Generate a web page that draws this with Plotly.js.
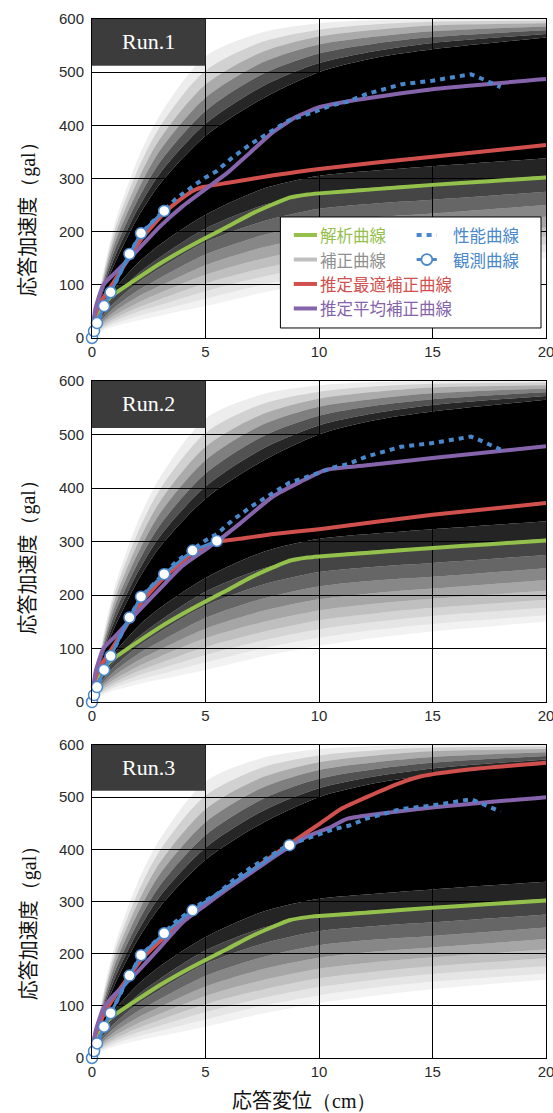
<!DOCTYPE html>
<html><head><meta charset="utf-8">
<script src="https://cdn.plot.ly/plotly-3.0.1.min.js"></script>
<style>html,body{margin:0;padding:0;background:#fff}#chart{width:553px;height:1113px}</style>
</head><body><div id="chart"></div>
<script>
// ---------------- data ----------------
const xTicks = [0, 5, 10, 15, 20];
const yTicks = [0, 100, 200, 300, 400, 500, 600];
const runLabels = ['Run.1', 'Run.2', 'Run.3'];
const legendNames = ['解析曲線', '補正曲線', '推定最適補正曲線', '推定平均補正曲線', '性能曲線', '観測曲線'];

// 解析曲線 (same in all runs)
const analysisX = [0, 0.2, 0.45, 0.8, 1, 2, 3, 4, 5, 6, 7, 8, 8.7, 9.5, 10, 12.5, 15, 17.5, 20];
const analysisY = [0, 35, 58, 76, 83, 112, 140, 165, 188, 210, 233, 252, 264, 270, 272, 280, 288, 295, 302];

// 性能曲線 (same in all runs)
const perfX = [0, 0.09, 0.22, 0.53, 0.82, 1.65, 2.16, 3.18, 3.7, 4.43, 5, 5.5, 6.2, 7, 8, 8.7, 9.3, 10, 10.6, 11.3, 12.1, 12.7, 13.6, 15, 16, 16.7, 17.1, 17.5, 18];
const perfY = [0, 13, 28, 60, 86, 158, 197, 239, 262, 285, 302, 314, 340, 365, 392, 410, 418, 429, 438, 445, 459, 466, 477, 484, 490, 496, 489, 482, 472];

// 観測曲線
const obs1X = [0, 0.09, 0.22, 0.53, 0.82, 1.65, 2.16, 3.18];
const obs1Y = [0, 13, 28, 60, 86, 158, 197, 239];
const obs2X = [0, 0.09, 0.22, 0.53, 0.82, 1.65, 2.16, 3.18, 4.43, 5.5];
const obs2Y = [0, 13, 28, 60, 86, 158, 197, 239, 283, 301];
const obs3X = [0, 0.09, 0.22, 0.53, 0.82, 1.65, 2.16, 3.18, 4.43, 8.7];
const obs3Y = [0, 13, 28, 60, 86, 158, 197, 239, 283, 408];

// 推定最適補正曲線
const best1X = [0, 0.1, 0.3, 0.6, 1, 1.65, 2.2, 3.2, 4, 4.5, 4.9, 6, 8, 10, 15, 20];
const best1Y = [0, 38, 60, 82, 108, 152, 188, 236, 264, 278, 284, 292, 306, 318, 341, 363];
const best2X = [0, 0.1, 0.3, 0.6, 1, 1.65, 2.2, 3.2, 4.4, 5.5, 6.5, 8, 10, 15, 20];
const best2Y = [0, 38, 60, 82, 108, 152, 188, 234, 277, 299, 305, 314, 323, 350, 372];
const best3X = [0, 0.1, 0.3, 0.6, 1, 1.65, 2.2, 3.2, 4.4, 5.5, 7, 8.7, 10, 11, 12.2, 13.5, 14.5, 16.6, 20];
const best3Y = [0, 38, 62, 90, 118, 158, 190, 232, 276, 312, 358, 410, 448, 478, 502, 526, 540, 553, 566];

// 推定平均補正曲線
const mean1X = [0, 0.15, 0.5, 1, 2, 3, 4, 5, 6, 7, 8, 9, 10, 11, 12, 15, 20];
const mean1Y = [0, 55, 100, 122, 165, 210, 248, 280, 312, 350, 388, 416, 434, 443, 450, 468, 487];
const mean2X = [0, 0.15, 0.5, 1, 2, 3, 4, 5, 5.5, 6.5, 8, 9.2, 10.3, 12, 15, 20];
const mean2Y = [0, 55, 100, 122, 168, 212, 255, 285, 300, 333, 385, 412, 434, 442, 456, 478];
const mean3X = [0, 0.15, 0.5, 1, 2, 3, 4, 5, 6, 7, 8, 8.7, 9.5, 10.5, 11.2, 15, 20];
const mean3Y = [0, 50, 95, 122, 165, 212, 260, 293, 325, 355, 385, 405, 425, 442, 458, 480, 500];

// 補正曲線 family: boundary curves of the grey fan, bottom edge -> top edge
const familyX = [0, 0.25, 0.5, 1, 2, 3, 5, 7.5, 10, 12.5, 15, 20];
const correctionCurves = [
  [0, 8, 14, 22, 33, 42, 60, 85, 105, 120, 132, 150],
  [0, 10, 17, 27, 41, 52, 74, 100, 120, 135, 146, 162],
  [0, 12, 20, 32, 49, 62, 88, 115, 136, 150, 161, 176],
  [0, 14, 24, 37, 57, 73, 103, 131, 153, 166, 176, 191],
  [0, 16, 28, 43, 66, 85, 119, 149, 171, 184, 193, 208],
  [0, 19, 32, 50, 77, 98, 137, 170, 192, 204, 212, 228],
  [0, 22, 37, 58, 89, 113, 157, 193, 216, 227, 234, 250],
  [0, 26, 43, 67, 103, 131, 180, 219, 243, 253, 260, 275],
  [0, 30, 50, 78, 120, 152, 206, 249, 273, 283, 290, 305],
  [0, 35, 58, 92, 140, 176, 232, 280, 305, 315, 323, 338],
  [0, 50, 88, 140, 225, 290, 380, 450, 500, 527, 543, 565],
  [0, 53, 94, 152, 241, 310, 403, 473, 517, 540, 555, 572],
  [0, 56, 100, 165, 258, 331, 427, 496, 535, 554, 566, 579],
  [0, 59, 106, 178, 276, 353, 452, 518, 552, 567, 577, 586],
  [0, 63, 112, 191, 295, 375, 477, 538, 567, 580, 588, 592],
  [0, 66, 118, 203, 315, 398, 503, 557, 580, 590, 595, 597],
  [0, 70, 125, 215, 335, 420, 530, 575, 592, 598, 600, 600]
];

// ---------------- styles ----------------
const bandAlpha = [0.05, 0.1, 0.17, 0.25, 0.35, 0.47, 0.6, 0.73, 0.86, 1.0, 0.85, 0.68, 0.5, 0.33, 0.18, 0.07];
const C = {green: '#94c04c', red: '#d0504d', purple: '#8564ac', blue: '#4a88cc', gray: '#c0c0c0', grayText: '#8f8f8f'};
const JP = 'Noto Sans CJK JP';

const panels = [
  {xa: 'x', ya: 'y', obsX: obs1X, obsY: obs1Y, bestX: best1X, bestY: best1Y, meanX: mean1X, meanY: mean1Y},
  {xa: 'x2', ya: 'y2', obsX: obs2X, obsY: obs2Y, bestX: best2X, bestY: best2Y, meanX: mean2X, meanY: mean2Y},
  {xa: 'x3', ya: 'y3', obsX: obs3X, obsY: obs3Y, bestX: best3X, bestY: best3Y, meanX: mean3X, meanY: mean3Y}
];

const traces = [];
panels.forEach(p => {
  correctionCurves.forEach((cy, k) => {
    traces.push({
      x: familyX, y: cy, xaxis: p.xa, yaxis: p.ya, type: 'scatter', mode: 'lines',
      line: {width: 0, shape: 'spline', smoothing: 0.8},
      fill: k === 0 ? 'none' : 'tonexty',
      fillcolor: 'rgba(0,0,0,' + (k === 0 ? 0 : bandAlpha[k - 1]) + ')',
      hoverinfo: 'skip', showlegend: false, name: legendNames[1]
    });
  });
  traces.push({x: analysisX, y: analysisY, xaxis: p.xa, yaxis: p.ya, mode: 'lines',
    line: {color: C.green, width: 4, shape: 'spline', smoothing: 0.5}, showlegend: false, name: legendNames[0]});
  traces.push({x: p.bestX, y: p.bestY, xaxis: p.xa, yaxis: p.ya, mode: 'lines',
    line: {color: C.red, width: 4, shape: 'spline', smoothing: 0.5}, showlegend: false, name: legendNames[2]});
  traces.push({x: p.meanX, y: p.meanY, xaxis: p.xa, yaxis: p.ya, mode: 'lines',
    line: {color: C.purple, width: 4, shape: 'spline', smoothing: 0.5}, showlegend: false, name: legendNames[3]});
  traces.push({x: perfX, y: perfY, xaxis: p.xa, yaxis: p.ya, mode: 'lines',
    line: {color: C.blue, width: 4, dash: '5px,5px'}, showlegend: false, name: legendNames[4]});
  traces.push({x: p.obsX, y: p.obsY, xaxis: p.xa, yaxis: p.ya, mode: 'lines+markers', cliponaxis: false,
    line: {color: C.blue, width: 3},
    marker: {size: 11, color: '#ffffff', line: {color: C.blue, width: 1.5}},
    showlegend: false, name: legendNames[5]});
});

const tickFont = {family: 'Liberation Sans, Arial, sans-serif', size: 15, color: '#2a2a2a'};
function xax(anchor) {
  return {anchor: anchor, domain: [0, 1], range: [0, 20], tickvals: xTicks, ticktext: xTicks.map(String),
    showgrid: true, gridcolor: '#000', gridwidth: 1, zeroline: false, showline: true, mirror: true,
    linecolor: '#000', linewidth: 1, ticks: '', tickfont: tickFont, ticklabeloverflow: 'allow', fixedrange: true};
}
function yax(anchor, dom) {
  return {anchor: anchor, domain: dom, range: [0, 600], tickvals: yTicks, ticktext: yTicks.map(String),
    showgrid: true, gridcolor: '#000', gridwidth: 1, zeroline: false, showline: true, mirror: true,
    linecolor: '#000', linewidth: 1, ticks: '', ticklabelstandoff: 4, tickfont: tickFont,
    ticklabeloverflow: 'allow', fixedrange: true};
}

const shapes = [];
const annotations = [];
const yTitleCenters = [0.8115, 0.4864, 0.1346];
panels.forEach((p, i) => {
  shapes.push({type: 'rect', xref: p.xa, yref: p.ya, x0: 0, x1: 5, y0: 512, y1: 600,
    fillcolor: '#3c3c3c', line: {width: 0}, layer: 'above'});
  annotations.push({xref: p.xa, yref: p.ya, x: 2.5, y: 557, text: runLabels[i], showarrow: false,
    font: {family: 'Liberation Serif, Times New Roman, serif', size: 22, color: '#ffffff'}});
  annotations.push({xref: 'paper', yref: 'paper', x: -0.1432, y: yTitleCenters[i], textangle: -90,
    xanchor: 'center', yanchor: 'middle', showarrow: false,
    text: '応答加速度<span style="font-family:\'Liberation Serif\'">（gal）</span>',
    font: {family: JP, size: 20, color: '#111'}});
});
annotations.push({xref: 'paper', yref: 'paper', x: 0.467, y: -0.040, xanchor: 'center', yanchor: 'middle',
  showarrow: false, text: '応答変位<span style="font-family:\'Liberation Serif\'">（cm）</span>',
  font: {family: JP, size: 20, color: '#111'}});

// legend (panel 1, drawn with shapes + annotations)
shapes.push({type: 'rect', xref: 'x', yref: 'y', x0: 8.30, x1: 19.78, y0: 18.8, y1: 227.6,
  fillcolor: '#ffffff', line: {color: '#000', width: 1}, layer: 'above'});
const rowsY = [193.7, 147.6, 101.6, 55.5];
const legFont = 16.5;
const col1 = [
  {name: legendNames[0], line: C.green, text: C.green},
  {name: legendNames[1], line: C.gray, text: C.grayText},
  {name: legendNames[2], line: C.red, text: C.red},
  {name: legendNames[3], line: C.purple, text: C.purple}
];
col1.forEach((e, r) => {
  shapes.push({type: 'line', xref: 'x', yref: 'y', x0: 8.89, x1: 9.91, y0: rowsY[r], y1: rowsY[r],
    line: {color: e.line, width: 4}, layer: 'above'});
  annotations.push({xref: 'x', yref: 'y', x: 10.0, y: rowsY[r], xanchor: 'left', yanchor: 'middle',
    showarrow: false, borderpad: 0, text: e.name, font: {family: JP, size: legFont, color: e.text}});
});
shapes.push({type: 'line', xref: 'x', yref: 'y', x0: 14.30, x1: 15.19, y0: rowsY[0], y1: rowsY[0],
  line: {color: C.blue, width: 4, dash: '5px,5px'}, layer: 'above'});
shapes.push({type: 'line', xref: 'x', yref: 'y', x0: 14.30, x1: 15.19, y0: rowsY[1], y1: rowsY[1],
  line: {color: C.blue, width: 3}, layer: 'above'});
shapes.push({type: 'circle', xref: 'x', yref: 'y', x0: 14.75 - 0.24, x1: 14.75 + 0.24,
  y0: rowsY[1] - 10.3, y1: rowsY[1] + 10.3, fillcolor: '#ffffff', line: {color: C.blue, width: 1.8}, layer: 'above'});
[4, 5].forEach((n, r) => {
  annotations.push({xref: 'x', yref: 'y', x: 15.85, y: rowsY[r], xanchor: 'left', yanchor: 'middle',
    showarrow: false, borderpad: 0, text: legendNames[n], font: {family: JP, size: legFont, color: C.blue}});
});

const layout = {
  width: 553, height: 1113,
  margin: {l: 92, r: 7, t: 19, b: 55, pad: 0},
  paper_bgcolor: '#ffffff', plot_bgcolor: '#ffffff',
  showlegend: false,
  font: {family: 'Liberation Sans, Arial, sans-serif', color: '#222'},
  xaxis: xax('y'), yaxis: yax('x', [0.6930, 1]),
  xaxis2: xax('y2'), yaxis2: yax('x2', [0.3426, 0.6516]),
  xaxis3: xax('y3'), yaxis3: yax('x3', [0, 0.3013]),
  shapes: shapes, annotations: annotations
};

Plotly.newPlot('chart', traces, layout, {displayModeBar: false, staticPlot: true});
</script>
</body></html>
